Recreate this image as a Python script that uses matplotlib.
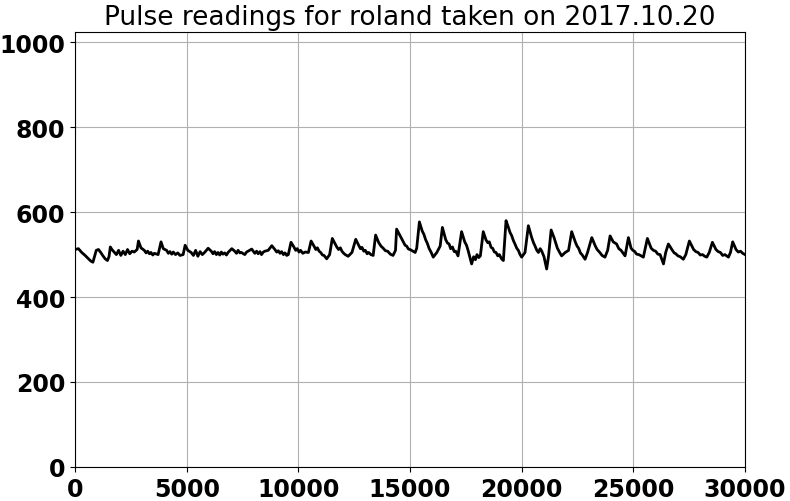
import matplotlib
matplotlib.use("Agg")
import matplotlib.pyplot as plt

# pulse readings (sample index, sensor value)
samples = [0, 150, 300, 450, 600, 700, 800, 870, 950, 1050, 1150, 1250, 1350, 1450, 1520, 1580,
           1650, 1750, 1850, 1950, 2050, 2150, 2250, 2350, 2450, 2550, 2650, 2780, 2840, 2950,
           3100, 3180, 3250, 3330, 3400, 3480, 3550, 3720, 3850, 3950, 4100, 4180, 4250, 4330,
           4400, 4500, 4600, 4700, 4840, 4930, 5050,
           5200, 5300, 5400, 5500, 5600, 5700, 5800, 5960, 6100, 6180, 6250, 6330, 6400, 6480,
           6550, 6620, 6700, 6780, 6850, 7020, 7150, 7230, 7300, 7380, 7450,
           7600, 7680, 7750, 7910, 8050, 8130, 8200, 8280, 8350, 8430, 8500, 8650, 8810, 8950,
           9030, 9100, 9180, 9250, 9330, 9400, 9480, 9550,
           9670, 9800, 9880, 9950, 10030, 10100, 10200, 10300, 10450, 10570, 10700, 10780,
           10850, 10930, 11000, 11080, 11150, 11270,
           11400, 11520, 11650, 11720, 11800, 11880, 11950, 12030, 12100, 12230, 12400, 12570,
           12700, 12780, 12850, 12930, 13000, 13080, 13150, 13250, 13350, 13460, 13600, 13700,
           13800, 13900, 14000, 14120, 14240, 14350, 14400,
           14550, 14620, 14700, 14780, 14850, 14930, 15000, 15230, 15300, 15420, 15550, 15620,
           15700, 15780, 15850, 15950, 16040, 16200,
           16350, 16450, 16600, 16680, 16750, 16820, 16900, 16980, 17050, 17150, 17310, 17450,
           17530, 17600, 17760, 17850, 17930,
           18000, 18080, 18150, 18280, 18400, 18480, 18550, 18630, 18700, 18780, 18850, 18930,
           19000, 19100, 19180, 19300, 19400, 19480, 19550, 19630,
           19700, 19780, 19850, 19930, 20000, 20150, 20300, 20450, 20530, 20600, 20680, 20750,
           20830, 20900, 21000, 21120, 21200,
           21320,
           21450, 21530, 21600, 21700, 21790, 21950, 22100, 22240, 22400, 22480, 22550, 22630,
           22700, 22840, 22950, 23140,
           23300, 23380, 23500, 23600, 23730, 23850, 23960, 24100, 24250, 24350, 24450, 24550,
           24630, 24780, 24900, 24980, 25050, 25150,
           25250, 25350, 25450, 25630, 25800, 25900, 26000, 26100, 26200, 26350, 26450, 26570,
           26750, 26830, 26900, 27000, 27100,
           27240, 27350, 27510, 27700, 27800, 27900, 28000, 28100, 28200, 28290, 28400, 28540,
           28700, 28800, 28900, 29000, 29100,
           29260, 29350, 29450, 29600, 29700, 29800, 29900, 30000]

readings = [512, 514, 505, 498, 490, 485, 482, 495, 510, 512, 505, 497, 490, 486, 495, 518,
            512, 506, 500, 510, 498, 508, 500, 512, 502, 508, 506, 512, 532, 516,
            510, 504, 508, 502, 505, 499, 503, 500, 530, 514, 510, 503, 507, 501,
            506, 500, 504, 498, 500, 522, 510,
            505, 498, 510, 496, 507, 500, 505, 515, 508, 502, 507, 500, 505, 499,
            506, 501, 504, 499, 505, 514, 508, 503, 510, 504, 505,
            500, 506, 508, 513, 503, 508, 502, 507, 500, 506, 508, 510, 521, 512,
            506, 509, 503, 507, 500, 504, 498, 500,
            529, 518, 510, 514, 506, 510, 503, 506, 505, 532, 520, 512,
            516, 508, 505, 499, 498, 490,
            500, 538, 525, 518, 512, 516, 508, 503, 500, 496, 505, 536,
            522, 514, 517, 508, 510, 502, 505, 500, 498, 546, 528, 520,
            515, 509, 508, 501, 498, 510, 560,
            545, 538, 530, 522, 520, 513, 512, 505, 515, 577, 555, 548,
            535, 526, 515, 505, 494, 505,
            520, 564, 535, 527, 525, 514, 518, 507, 508, 497, 554, 530,
            522, 510, 478, 495, 488,
            500, 493, 497, 554, 535, 528, 530, 517, 515, 506, 505, 497,
            500, 490, 486, 580, 565, 552, 545, 533,
            525, 515, 510, 500, 494, 505, 568, 540, 528, 520, 510, 505,
            514, 508, 495, 466, 495,
            558,
            540, 527, 515, 505, 497, 505, 510, 554, 530, 520, 515, 504,
            500, 489, 505, 540,
            520, 512, 505, 498, 494, 510, 544, 530, 525, 514, 510, 503,
            497, 540, 515, 510, 508, 501,
            500, 497, 494, 538, 515, 510, 508, 501, 500, 478, 505, 525,
            510, 504, 502, 497, 495,
            489, 500, 532, 512, 507, 505, 499, 500, 496, 494, 505, 529,
            512, 507, 505, 498, 500,
            494, 505, 530, 512, 506, 508, 503, 500]

name = "roland"
date = "2017.10.20"

fig = plt.figure(figsize=(7.9, 5.02), dpi=100)
ax = fig.add_axes([0.095, 0.068, 0.848, 0.866])
ax.plot(samples, readings, color="black", linewidth=2)
ax.set_xlim(0, 30000)
ax.set_ylim(0, 1024)
ax.set_yticks([0, 200, 400, 600, 800, 1000])
ax.set_xticks([0, 5000, 10000, 15000, 20000, 25000, 30000])
ax.grid(True)
ax.set_title("Pulse readings for " + name + " taken on " + date, fontsize=19)
for lab in ax.get_xticklabels() + ax.get_yticklabels():
    lab.set_fontsize(17)
    lab.set_fontweight("bold")

plt.savefig("out.png")
